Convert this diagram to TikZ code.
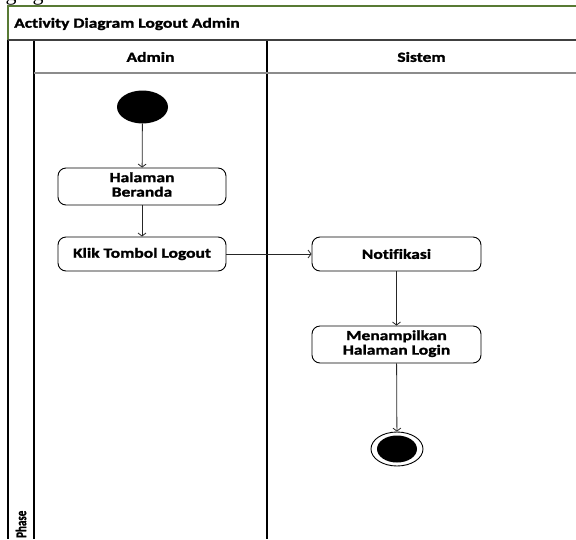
\documentclass[tikz,border=0pt]{standalone}
\usepackage{fontspec}
\setmainfont{Carlito}[Ligatures={NoCommon}, BoldFeatures={FakeBold=1.3}]
\newfontfamily\serifcut{Liberation Serif}
\usetikzlibrary{arrows.meta,shapes.geometric}
\newcommand\widetext[1]{\scalebox{1.25}[1]{#1}}
\begin{document}
\begin{tikzpicture}[x=1pt,y=-1pt,
  lane/.style={line width=1.4pt, black},
  rule/.style={line width=1.6pt, black!45},
  darkrule/.style={line width=1.3pt, black!75},
  frame/.style={line width=1.1pt, draw={rgb,255:red,88;green,122;blue,52}},
  lbl/.style={font=\fontsize{14}{14.5}\selectfont\bfseries},
  act/.style={draw, line width=0.9pt, rounded corners=8pt, minimum width=168pt,
    inner sep=0pt, align=center, lbl},
  flow/.style={-{Straight Barb[length=3pt,width=8pt]}, line width=0.8pt, black!85}
]
\useasboundingbox (0,0) rectangle (576,539);

% cut-off descenders of the line above
\node[anchor=base, inner sep=0pt, font=\serifcut\fontsize{22}{22}\selectfont] (ga) at (11,0.5) {g};
\node[anchor=base, inner sep=0pt, font=\serifcut\fontsize{22}{22}\selectfont] (gb) at (38,0.5) {g};

% frame and swimlanes
\draw[frame] (8,40) -- (8,6) -- (576,6);
\draw[lane] (8,40) -- (8,539);
\draw[lane] (34,40) -- (34,539);
\draw[lane] (267,40) -- (267,539);
\draw[darkrule] (8,40) -- (576,40);
\draw[rule] (34,73) -- (576,73);

\node[lbl, anchor=west, inner sep=0pt] (title) at (14,24) {\widetext{Activity Diagram Logout Admin}};
\node[lbl] (admin) at (150.5,57) {\widetext{Admin}};
\node[lbl] (sistem) at (421.5,57) {\widetext{Sistem}};
\node[rotate=90, anchor=west, inner sep=0pt, font=\fontsize{11}{12}\selectfont\bfseries] (phase) at (21,538) {\scalebox{1}[1.35]{Phase}};

% activities
\node[ellipse, fill=black, minimum width=51pt, minimum height=33pt, inner sep=0pt] (start) at (142.5,107) {};
\node[act, minimum height=37pt] (home) at (142,186.5) {\widetext{\begin{tabular}{@{}c@{}}Halaman\\Beranda\end{tabular}}};
\node[act, minimum height=34pt] (logout) at (142,254) {\widetext{Klik Tombol Logout}};
\node[act, minimum width=169pt, minimum height=34pt] (notif) at (396.5,254) {\widetext{Notifikasi}};
\node[act, minimum width=169pt, minimum height=37pt] (login) at (396.5,344.5) {\widetext{\begin{tabular}{@{}c@{}}Menampilkan\\Halaman Login\end{tabular}}};
\node[ellipse, draw, line width=0.9pt, minimum width=52pt, minimum height=34pt, inner sep=0pt] (final) at (397,449) {};
\node[ellipse, fill=black, minimum width=40pt, minimum height=27pt, inner sep=0pt] (finaldot) at (final.center) {};

% control flow
\draw[flow] (start) -- (home);
\draw[flow] (home) -- (logout);
\draw[flow] (logout) -- (notif);
\draw[flow] (notif) -- (login);
\draw[flow] (login) -- (final);
\end{tikzpicture}
\end{document}
